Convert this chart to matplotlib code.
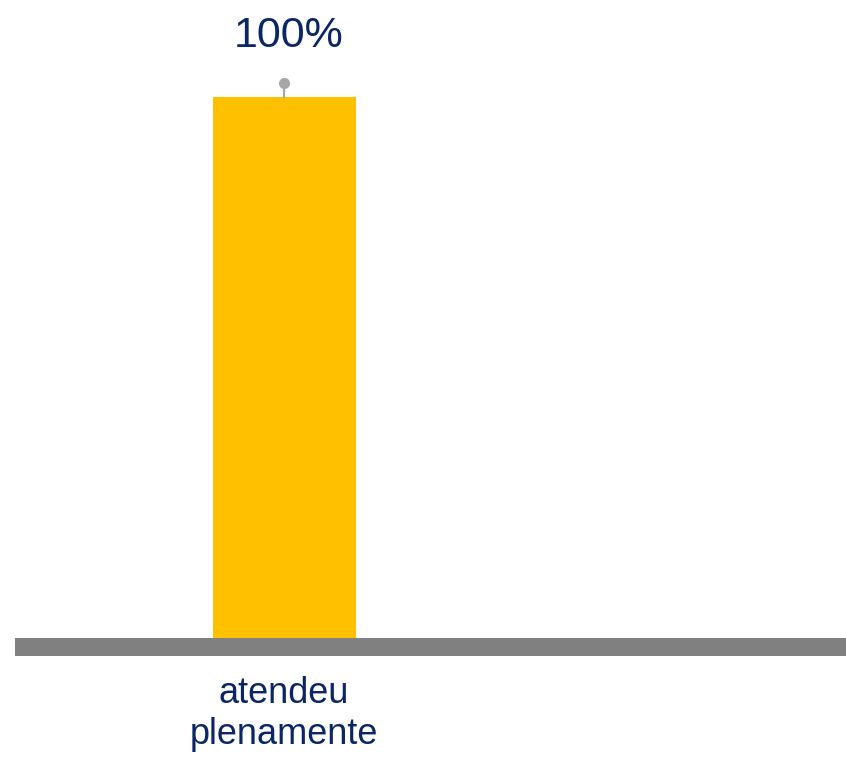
import matplotlib
matplotlib.use("Agg")
import matplotlib.pyplot as plt

categories = ["atendeu\nplenamente"]
values = [100]
value_labels = ["100%"]

W, H = 846, 758
fig = plt.figure(figsize=(W / 100, H / 100), dpi=100)
plt.rcParams['font.family'] = ['Liberation Sans', 'DejaVu Sans']

# axes: left at px 15, right at 846, bottom at px 638 (bar base), top at px 0
ax = fig.add_axes([15 / W, (H - 638) / H, (W - 15) / W, 638 / H])
px_per_unit = (638 - 97) / 100.0
ax.set_ylim(0, 638 / px_per_unit)
bw = 0.6
unit_per_px = bw / 143
ax.set_xlim(-(284 - 15) * unit_per_px, (846 - 284) * unit_per_px)

xs = list(range(len(categories)))
ax.bar(xs, values, width=bw, color="#FFC000", zorder=2)

navy = "#0B2566"
for x, v, lab in zip(xs, values, value_labels):
    dot_y = v + 14 / px_per_unit
    ax.plot([x, x], [v, dot_y], color="#A6A6A6", lw=1.6, zorder=3, clip_on=False)
    ax.plot([x], [dot_y], 'o', color="#A6A6A6", ms=7, zorder=3, clip_on=False)
    ax.text(x + 5 * unit_per_px, v + (97 - 36) / px_per_unit, lab, ha='center', va='center',
            fontsize=31, color=navy)

for s in ['top', 'right', 'left']:
    ax.spines[s].set_visible(False)
ax.spines['bottom'].set_color("#808080")
ax.spines['bottom'].set_linewidth(18 * 0.72)
ax.spines['bottom'].set_position(('outward', 9 * 0.72))
ax.spines['bottom'].set_capstyle('butt')
ax.set_yticks([])
ax.set_xticks(xs)
ax.set_xticklabels(categories, fontsize=26, color=navy, linespacing=1.22)
ax.tick_params(axis='x', length=0, pad=21)

fig.savefig("out.png", dpi=100)
